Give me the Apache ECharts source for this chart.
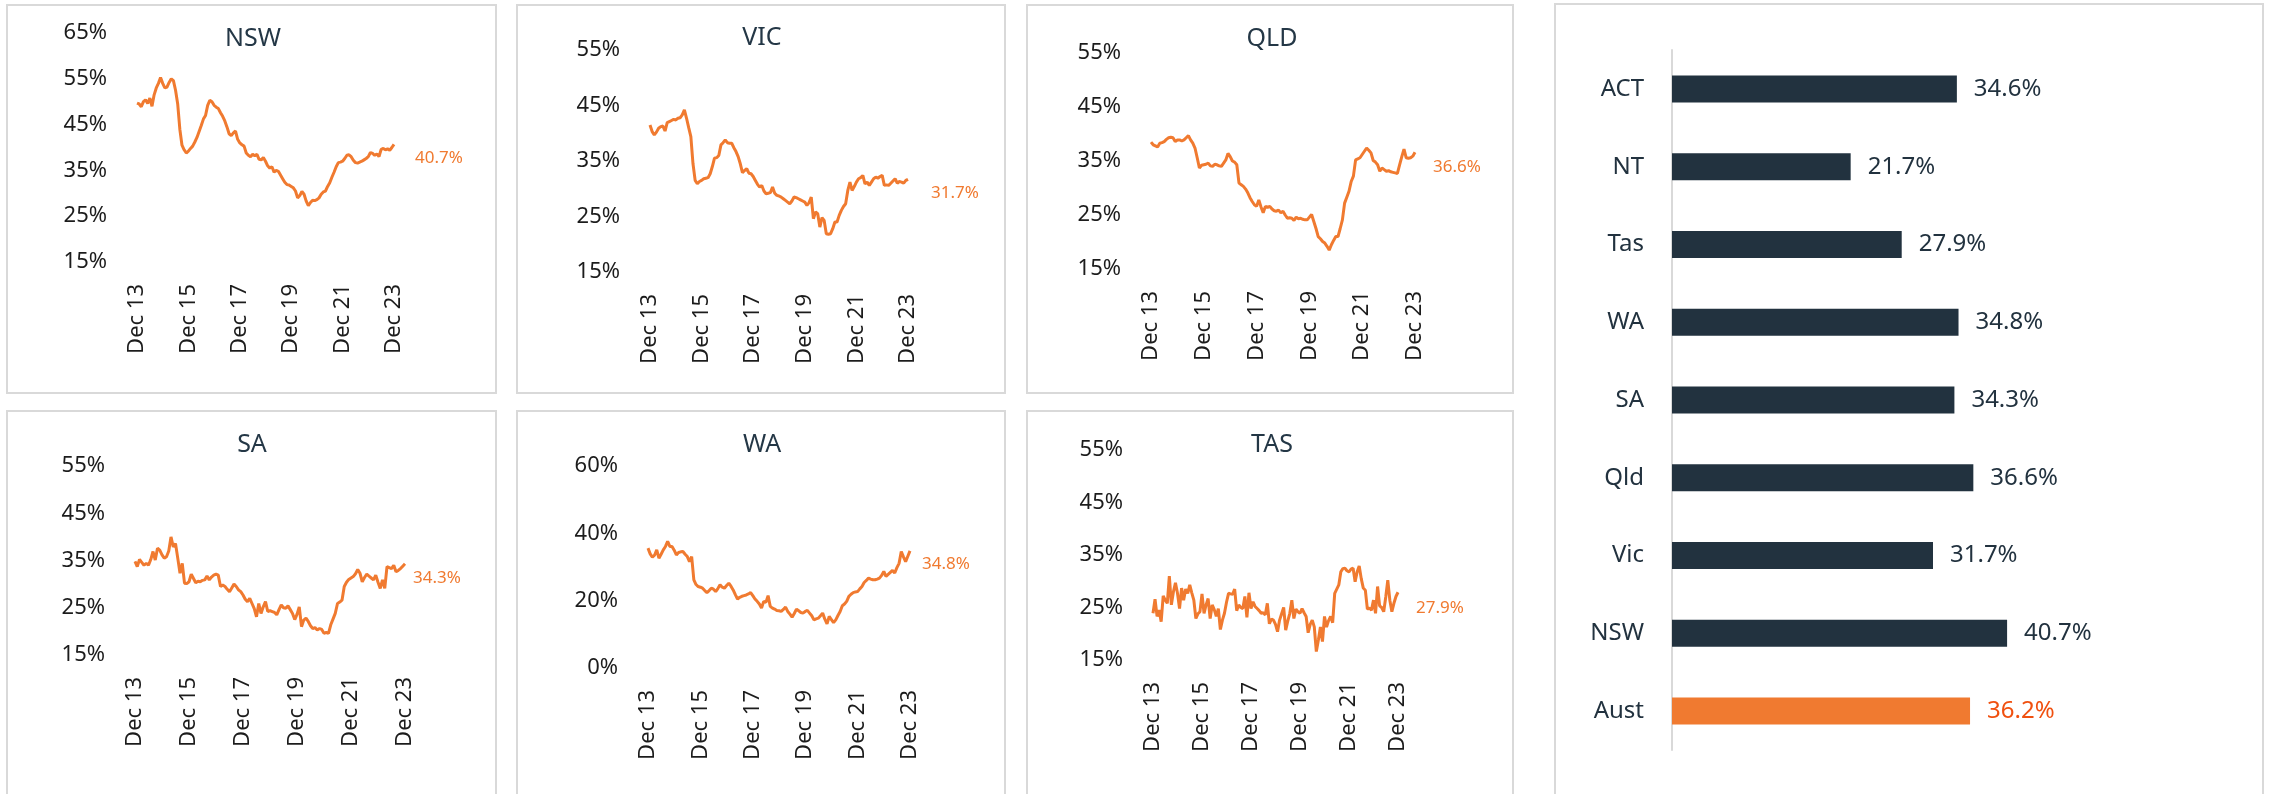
<!DOCTYPE html>
<html>
<head>
<meta charset="utf-8">
<script src="https://cdn.jsdelivr.net/npm/echarts@6/dist/echarts.min.js"></script>
<style>
html,body{margin:0;padding:0;background:#fff;}
#chart{width:2269px;height:794px;}
</style>
</head>
<body>
<div id="chart"></div>
<script>
// ---------- DATA ----------
const monthNames = ['Jan','Feb','Mar','Apr','May','Jun','Jul','Aug','Sep','Oct','Nov','Dec'];
const months = [];
for (let i = 0; i <= 120; i++) {
  const d = new Date(2013, 11 + i, 1);
  months.push(monthNames[d.getMonth()] + ' ' + String(d.getFullYear()).slice(2));
}

const nsw = [49.7,49.5,48.9,50.0,50.4,49.6,50.8,49.0,51.5,53.0,54.0,55.3,54.0,53.0,53.2,54.2,55.0,54.6,52.5,49.5,
44.0,40.5,39.5,38.8,39.2,39.8,40.3,41.2,42.2,43.5,44.8,46.2,47.0,49.2,50.3,50.0,49.2,48.8,48.5,47.6,
46.8,45.8,44.5,43.0,42.6,43.2,43.6,41.8,41.0,40.6,40.3,38.8,38.3,38.0,38.5,38.2,38.5,37.4,37.3,37.8,
37.0,36.0,35.5,35.8,34.6,35.0,34.8,34.0,33.2,32.4,31.9,31.8,31.5,31.2,30.5,29.0,29.5,30.4,29.8,28.3,
27.3,28.0,28.5,28.4,28.6,29.0,29.8,30.3,30.5,31.5,32.3,33.5,34.6,35.8,36.7,36.8,37.0,37.6,38.3,38.4,
38.0,37.2,36.7,36.6,36.8,37.0,37.3,37.6,38.0,38.9,38.7,38.3,38.6,38.0,39.6,39.8,39.5,39.7,39.4,40.0,40.7];

const vic = [41.5,40.3,39.7,40.2,40.9,41.2,41.3,40.4,41.9,42.1,42.3,42.5,42.4,42.7,42.8,43.3,44.2,42.7,41.0,39.4,
34.5,31.5,30.9,31.3,31.5,31.8,31.9,32.0,32.7,34.0,35.5,35.6,36.0,37.9,38.3,38.8,38.3,38.2,38.2,37.4,
36.7,35.8,34.5,32.9,33.3,33.6,32.8,32.7,32.2,31.5,30.8,30.3,30.6,29.6,29.1,29.2,29.3,30.3,29.2,28.8,
28.7,28.5,28.2,27.9,27.6,27.3,27.8,28.5,28.4,28.2,28.0,27.8,27.6,27.0,27.5,28.5,24.6,25.8,25.5,23.1,
24.8,24.3,21.9,21.8,21.9,22.8,24.0,24.0,25.2,26.1,26.8,27.3,29.7,31.2,29.7,30.4,31.2,31.8,32.0,32.4,
30.9,31.2,30.6,31.2,31.8,32.1,31.9,32.2,32.4,30.6,30.7,30.6,31.0,31.4,31.8,31.0,31.3,31.2,31.0,31.5,31.7];

const qld = [38.5,38.0,37.8,37.6,38.3,38.4,38.6,39.0,39.3,39.4,39.3,38.6,38.9,38.9,38.7,38.9,39.3,39.7,38.9,38.3,
37.4,35.6,33.7,34.2,34.3,34.4,34.6,34.1,34.0,34.4,34.3,34.1,34.0,34.6,35.2,36.4,35.8,35.0,34.8,34.3,
30.9,30.6,30.3,29.8,29.1,28.2,27.5,26.9,26.6,27.8,26.5,25.4,26.6,26.4,26.6,26.1,25.8,25.7,25.9,25.4,
25.7,25.0,24.4,24.5,24.4,24.0,24.6,24.3,24.4,24.2,24.1,24.1,24.6,25.1,23.8,22.5,21.0,20.6,20.1,19.8,
19.2,18.5,19.5,20.3,21.0,21.0,22.5,24.1,27.2,28.3,29.4,31.2,32.2,35.2,35.4,35.6,36.2,36.8,37.4,37.0,
36.5,35.1,34.8,34.3,33.1,33.7,33.4,33.1,33.2,33.0,32.9,32.8,32.7,34.3,35.8,37.2,35.6,35.5,35.6,35.9,36.6];

const sa = [34.8,33.7,35.2,34.6,34.0,34.4,34.0,35.2,36.9,35.1,37.6,37.2,36.2,35.5,35.8,37.0,40.0,37.9,38.6,35.5,
32.3,34.4,30.2,30.1,30.5,32.1,31.2,30.3,30.6,30.5,30.8,30.9,31.7,30.9,31.5,31.9,32.1,31.9,29.5,29.8,
29.5,28.9,28.4,29.2,30.0,29.5,28.8,28.4,27.7,26.8,26.3,27.0,25.9,24.8,23.1,25.9,23.8,25.2,26.3,24.2,
24.4,24.2,24.0,23.5,24.6,25.6,25.0,24.9,25.4,24.6,23.8,22.5,23.6,25.2,21.0,22.4,22.8,22.1,21.2,20.6,
20.8,20.3,20.6,20.4,19.6,19.8,19.6,21.4,22.6,23.8,25.9,26.2,26.6,29.5,30.4,31.0,31.3,31.6,32.2,33.1,
32.3,30.5,31.4,32.1,31.7,31.3,30.9,31.9,30.4,29.1,30.9,29.1,33.7,33.5,33.3,34.0,32.6,32.9,33.3,33.8,34.3];

const wa = [35.6,33.9,32.9,33.5,35.1,32.6,33.8,35.1,36.1,37.6,36.1,36.1,35.0,33.6,34.3,34.5,34.6,33.8,33.1,31.6,
33.1,26.2,24.8,24.2,24.0,23.7,23.0,22.4,23.0,23.7,23.4,22.7,23.6,24.7,24.0,23.7,24.5,25.2,24.3,23.2,
21.8,20.5,21.0,21.3,21.5,21.7,22.0,22.4,21.5,20.5,19.8,19.0,17.8,19.8,19.5,21.5,18.3,17.8,17.5,17.1,
17.0,16.8,17.4,18.1,16.8,16.0,15.1,16.2,17.5,17.0,16.5,16.3,16.8,17.1,16.3,15.5,14.3,14.6,14.8,15.5,
16.3,14.5,13.1,15.3,14.4,13.5,14.3,15.6,16.8,18.5,19.0,19.8,21.3,21.9,22.4,22.6,22.7,23.5,24.2,25.4,
26.0,26.7,26.4,26.2,26.2,26.4,26.7,27.5,28.7,27.2,27.8,28.4,29.0,28.2,29.8,31.1,34.6,33.0,31.6,33.2,34.8];

const tas = [23.9,26.6,23.3,24.5,22.3,27.2,26.4,25.8,31.0,25.5,28.0,29.7,27.7,24.8,28.7,26.4,28.5,27.7,29.3,27.8,
26.4,22.9,23.8,24.2,27.6,23.9,25.5,26.7,22.9,25.5,24.6,23.3,24.8,20.8,22.6,23.9,26.0,27.7,27.6,27.5,
28.5,24.4,25.5,25.0,24.8,27.1,23.1,27.8,24.8,26.1,25.2,24.8,24.4,23.9,24.0,23.6,25.8,21.9,22.8,22.6,
21.8,20.4,22.6,23.8,25.0,20.7,22.4,23.9,26.4,22.9,24.7,24.2,23.9,24.8,24.0,23.3,20.2,21.8,22.6,21.3,
16.6,18.8,21.3,18.5,23.3,21.3,22.5,23.3,22.1,27.7,28.5,29.3,31.8,32.4,32.5,32.0,31.8,32.3,32.5,29.9,
31.8,32.9,30.5,28.7,28.3,24.7,24.9,24.5,26.4,23.9,29.0,25.3,25.0,24.2,27.0,30.2,26.4,24.2,25.8,27.1,27.9];

const barCategories = ['ACT','NT','Tas','WA','SA','Qld','Vic','NSW','Aust'];
const barValues = [34.6,21.7,27.9,34.8,34.3,36.6,31.7,40.7,36.2];

// ---------- LAYOUT ----------
const ORANGE = '#F07A30';
const DARK = '#22323F';
const TXT = '#1c1c1c';
const FONT = '"Noto Sans", sans-serif';

const panels = [
  {name:'NSW', data:nsw, grid:{left:137,top:33,width:257,height:229}, min:15,max:65,interval:10, end:[21,14], title:[253,39], box:[7,5,489,388]},
  {name:'VIC', data:vic, grid:{left:650,top:50,width:258,height:222}, min:15,max:55,interval:10, end:[23,14], title:[762,38], box:[517,5,488,388]},
  {name:'QLD', data:qld, grid:{left:1151,top:53,width:264,height:216}, min:15,max:55,interval:10, end:[18,15], title:[1272,39], box:[1027,5,486,388]},
  {name:'SA',  data:sa,  grid:{left:135,top:466,width:270,height:189}, min:15,max:55,interval:10, end:[8,14], title:[252,445], box:[7,411,489,400]},
  {name:'WA',  data:wa,  grid:{left:648,top:466,width:262,height:202}, min:0,max:60,interval:20, end:[12,13], title:[762,445], box:[517,411,488,400]},
  {name:'TAS', data:tas, grid:{left:1153,top:450,width:245,height:210}, min:15,max:55,interval:10, end:[18,16], title:[1272,445], box:[1027,411,486,400]}
];

const grids = [], xAxes = [], yAxes = [], series = [], graphics = [];

panels.forEach((p, i) => {
  grids.push(Object.assign({containLabel:false}, p.grid));
  xAxes.push({
    type:'category', gridIndex:i, data:months, boundaryGap:false,
    axisLine:{show:false}, axisTick:{show:false}, splitLine:{show:false},
    axisLabel:{rotate:90, interval:23, margin:22, fontSize:22, color:TXT, fontFamily:FONT}
  });
  yAxes.push({
    type:'value', gridIndex:i, min:p.min, max:p.max, interval:p.interval,
    axisLine:{show:false}, axisTick:{show:false}, splitLine:{show:false},
    axisLabel:{formatter:'{value}%', margin:30, fontSize:22, color:TXT, fontFamily:FONT}
  });
  series.push({
    type:'line', xAxisIndex:i, yAxisIndex:i, data:p.data, showSymbol:false, symbol:'none',
    lineStyle:{color:ORANGE, width:3}, silent:true, animation:false,
    endLabel:{show:true, formatter:(prm)=>Number(prm.value).toFixed(1)+'%', color:ORANGE, fontSize:17,
      fontFamily:FONT, distance:0, offset:[p.end[0], p.end[1]]}
  });
  graphics.push({type:'rect', shape:{x:p.box[0], y:p.box[1], width:p.box[2], height:p.box[3]},
    style:{fill:'none', stroke:'#D9D9D9', lineWidth:2}, silent:true});
  graphics.push({type:'text', x:p.title[0], y:p.title[1],
    style:{text:p.name, fill:'#243746', font:'25px "Noto Sans", sans-serif', textAlign:'center', textVerticalAlign:'middle'}});
});

// right bar panel
const bi = panels.length;
grids.push({left:1672, top:50, width:494, height:700, containLabel:false});
xAxes.push({type:'value', gridIndex:bi, min:0, max:60, show:false, splitLine:{show:false}});
yAxes.push({
  type:'category', gridIndex:bi, data:barCategories, inverse:true,
  axisLine:{show:true, lineStyle:{color:'#D9D9D9', width:2}}, axisTick:{show:false},
  axisLabel:{margin:28, fontSize:24, color:DARK, fontFamily:FONT}
});
series.push({
  type:'bar', xAxisIndex:bi, yAxisIndex:bi, barWidth:27, animation:false,
  data: barValues.map((v, k) => barCategories[k] === 'Aust'
    ? {value:v, itemStyle:{color:ORANGE}, label:{color:'#F0500F'}}
    : {value:v}),
  itemStyle:{color:DARK},
  label:{show:true, position:'right', distance:17, formatter:(prm)=>prm.value.toFixed(1)+'%',
    fontSize:24, color:DARK, fontFamily:FONT}
});
graphics.push({type:'rect', shape:{x:1555, y:4, width:708, height:800},
  style:{fill:'none', stroke:'#D9D9D9', lineWidth:2}, silent:true});

const chart = echarts.init(document.getElementById('chart'), null, {renderer:'canvas'});
chart.setOption({
  backgroundColor:'#ffffff',
  animation:false,
  textStyle:{fontFamily:FONT},
  grid:grids, xAxis:xAxes, yAxis:yAxes, series:series, graphic:graphics
});
</script>
</body>
</html>
